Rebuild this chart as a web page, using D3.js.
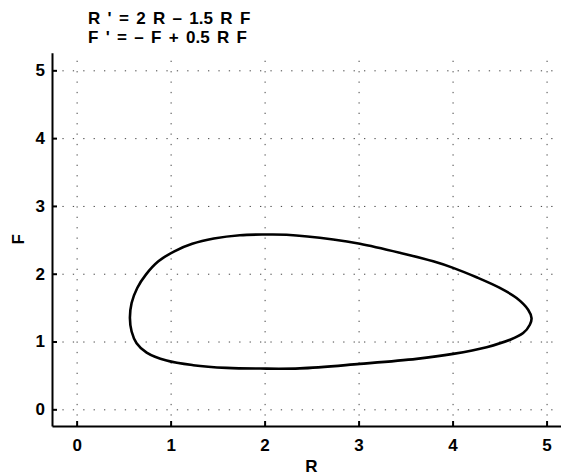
<!DOCTYPE html>
<html lang="en">
<head>
    <meta charset="UTF-8">
    <title>Phase plane</title>
    <script src="https://d3js.org/d3.v7.min.js"></script>
    <style>
        body { margin: 0; background: #fff; }
        svg text { font-family: "Liberation Sans", Arial, Helvetica, sans-serif; font-weight: bold; fill: #000; }
    </style>
</head>
<body>
    <svg width="561" height="475"></svg>
    <script>
        // orbit, clockwise from the left tip
        const orbitR = [0.567, 0.585, 0.645, 0.737, 0.870, 1.040, 1.230, 1.460, 1.737, 2.003, 2.234,
            2.730, 3.014, 3.439, 3.794, 4.006, 4.255, 4.503, 4.681, 4.804, 4.840,
            4.822, 4.751, 4.610, 4.362, 4.006, 3.617, 3.014, 2.376, 1.950, 1.596, 1.240, 0.957, 0.745, 0.638, 0.585];
        const orbitF = [1.346, 1.568, 1.790, 1.987, 2.183, 2.331, 2.441, 2.519, 2.568, 2.578, 2.574,
            2.504, 2.441, 2.308, 2.183, 2.086, 1.947, 1.790, 1.642, 1.469, 1.346,
            1.247, 1.124, 1.025, 0.917, 0.818, 0.744, 0.670, 0.604, 0.601, 0.611, 0.651, 0.719, 0.837, 0.976, 1.148];

        const xTicks = [0, 1, 2, 3, 4, 5];
        const yTicks = [0, 1, 2, 3, 4, 5];
        const titleLines = ["R ' = 2 R \u2013 1.5 R F", "F ' = \u2013 F + 0.5 R F"];

        const svg = d3.select("svg");
        const mLeft = 52, mRight = 571, mTop = 52.7, mBottom = 426;

        const x = d3.scaleLinear().domain([-0.262, 5.26]).range([mLeft, mRight]);
        const y = d3.scaleLinear().domain([-0.246, 5.26]).range([mBottom, mTop]);

        // dotted grid
        const grid = svg.append("g")
            .attr("stroke", "#444")
            .attr("stroke-width", 1)
            .attr("stroke-dasharray", "1.3,9.1");
        grid.selectAll(".gx").data(xTicks).enter().append("line")
            .attr("x1", d => x(d) + 0.5).attr("x2", d => x(d) + 0.5)
            .attr("y1", mBottom).attr("y2", mTop);
        grid.selectAll(".gy").data(yTicks).enter().append("line")
            .attr("y1", d => y(d) + 0.5).attr("y2", d => y(d) + 0.5)
            .attr("x1", mLeft).attr("x2", mRight);

        // axes with inward ticks
        const xAxis = svg.append("g")
            .attr("transform", `translate(0,${mBottom})`)
            .call(d3.axisBottom(x).tickValues(xTicks).tickFormat(d3.format("d"))
                .tickSizeInner(-5).tickSizeOuter(0).tickPadding(13));
        const yAxis = svg.append("g")
            .attr("transform", `translate(${mLeft},0)`)
            .call(d3.axisLeft(y).tickValues(yTicks).tickFormat(d3.format("d"))
                .tickSizeInner(-5).tickSizeOuter(0).tickPadding(7));

        [xAxis, yAxis].forEach(a => {
            a.select(".domain").attr("stroke", "#000").attr("stroke-width", 2);
            a.selectAll(".tick line").attr("stroke", "#000").attr("stroke-width", 2);
            a.selectAll(".tick text")
                .attr("font-size", 17)
                .attr("font-family", "Liberation Sans, Arial, sans-serif")
                .attr("font-weight", "bold");
        });

        // orbit
        const pts = orbitR.map((r, i) => [r, orbitF[i]]);
        const line = d3.line()
            .x(d => x(d[0]))
            .y(d => y(d[1]))
            .curve(d3.curveCatmullRomClosed);
        svg.append("path")
            .attr("d", line(pts))
            .attr("fill", "none")
            .attr("stroke", "#000")
            .attr("stroke-width", 2.6)
            .attr("stroke-linejoin", "round");

        // title (MATLAB spaces its words wider)
        svg.selectAll(".title").data(titleLines).enter().append("text")
            .attr("x", 88)
            .attr("y", (d, i) => 24 + i * 19)
            .attr("font-size", 17)
            .attr("word-spacing", "2.6px")
            .text(d => d);

        // axis labels
        svg.append("text")
            .attr("x", (mLeft + mRight) / 2)
            .attr("y", 472)
            .attr("text-anchor", "middle")
            .attr("font-size", 17)
            .text("R");
        svg.append("text")
            .attr("transform", `translate(24,${(mTop + mBottom) / 2}) rotate(-90)`)
            .attr("text-anchor", "middle")
            .attr("font-size", 17)
            .text("F");
    </script>
</body>
</html>
